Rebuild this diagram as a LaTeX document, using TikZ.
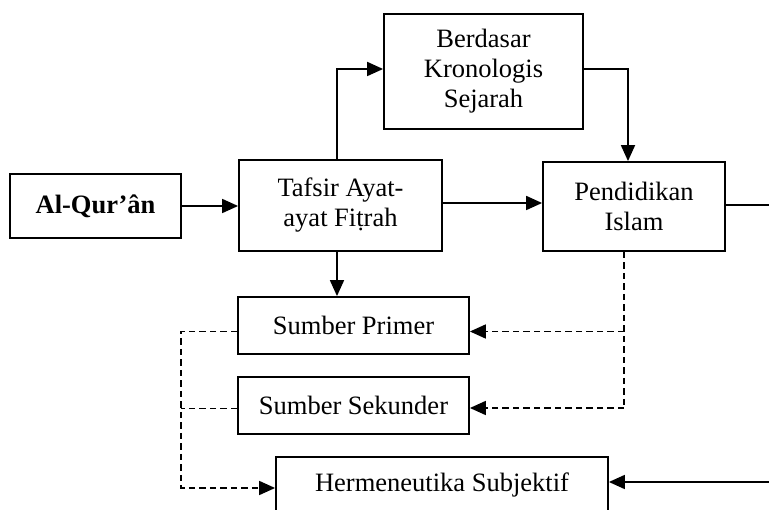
\documentclass[tikz,border=0pt]{standalone}
\usepackage{fontspec}
\setmainfont{Liberation Serif}
\usetikzlibrary{arrows.meta}
\begin{document}
\begin{tikzpicture}[x=1pt,y=-1pt,
  box/.style={draw,line width=1.8pt,align=center,inner sep=0pt,font=\fontsize{26.5}{30}\selectfont},
  conn/.style={line width=1.8pt,-{Triangle[length=16pt,width=14pt]}},
  plain/.style={line width=1.8pt},
  dsh/.style={line width=1.8pt,dash pattern=on 6.5pt off 4pt}]
\useasboundingbox (0,0) rectangle (769,510);
\clip (0,0) rectangle (769,510);
\node[box,minimum width=171pt,minimum height=64pt,font=\fontsize{26.5}{30}\selectfont\bfseries] (alq) at (95.5,206) {Al-Qur’ân};
\node[box,minimum width=203pt,minimum height=91pt] (taf) at (340.5,205.5) {Tafsir Ayat-\\ayat Fiṭrah};
\node[box,minimum width=199pt,minimum height=115pt] (ber) at (483.5,71.5) {Berdasar\\Kronologis\\Sejarah};
\node[box,minimum width=182pt,minimum height=89pt] (pen) at (634,206.5) {Pendidikan\\Islam};
\node[box,minimum width=231pt,minimum height=57pt] (pri) at (353.5,325.5) {Sumber Primer};
\node[box,minimum width=231pt,minimum height=57pt] (sek) at (353.5,405.5) {Sumber Sekunder};
\node[box,minimum width=332pt,minimum height=56pt] (her) at (442,485) {Hermeneutika Subjektif};
\coordinate (rt1) at (769,208);
\coordinate (rt2) at (769,482);
\coordinate (lx) at (181,0);
\coordinate (px) at (624,0);
% solid connectors
\draw[conn] (alq.east) -- (alq.east -| taf.west);
\draw[conn] ([xshift=-3.5pt]taf.north) |- ([yshift=2.5pt]ber.west);
\draw[conn] ([yshift=2.5pt]ber.east) -| ([xshift=-6pt]pen.north);
\draw[conn] ([yshift=2.5pt]taf.east) -- ([yshift=2.5pt]taf.east -| pen.west);
\draw[plain] ([yshift=1.5pt]pen.east) -- ([yshift=1.5pt]pen.east -| rt1);
\draw[conn] ([xshift=-3.5pt]taf.south) -- ([xshift=-3.5pt]taf.south |- pri.north);
\draw[conn] (rt2) -- (rt2 -| her.east);
% dashed connectors
\draw[dsh] (pen.south -| px) -- ([yshift=-2.5pt]sek.east -| px);
\draw[dsh,-{Triangle[length=16pt,width=14pt]}] ([yshift=-6pt]pri.east -| px) -- ([yshift=-6pt]pri.east);
\draw[dsh,-{Triangle[length=16pt,width=14pt]}] ([yshift=-2.5pt]sek.east -| px) -- ([yshift=-2.5pt]sek.east);
\draw[dsh,-{Triangle[length=16pt,width=14pt]}] ([yshift=-6pt]pri.west) -- ([yshift=-6pt]pri.west -| lx) |- ([yshift=-3pt]her.west);
\draw[dsh] ([yshift=-3pt]sek.west) -- ([yshift=-3pt]sek.west -| lx);
\end{tikzpicture}
\end{document}
